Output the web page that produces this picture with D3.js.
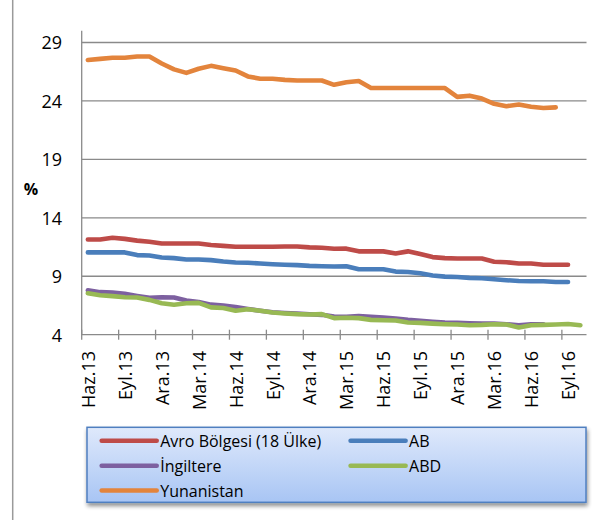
<!DOCTYPE html>
<html><head><meta charset="utf-8">
<script src="https://cdn.jsdelivr.net/npm/d3@7"></script>
<style>
html,body{margin:0;padding:0;background:#fff;}
svg{display:block;font-family:"Open Sans",sans-serif;}
</style></head>
<body><svg id="c" width="606" height="520"></svg>
<script>
const months = ["Haz.13","Tem.13","Ağu.13","Eyl.13","Eki.13","Kas.13","Ara.13","Oca.14","Şub.14","Mar.14","Nis.14","May.14","Haz.14","Tem.14","Ağu.14","Eyl.14","Eki.14","Kas.14","Ara.14","Oca.15","Şub.15","Mar.15","Nis.15","May.15","Haz.15","Tem.15","Ağu.15","Eyl.15","Eki.15","Kas.15","Ara.15","Oca.16","Şub.16","Mar.16","Nis.16","May.16","Haz.16","Tem.16","Ağu.16","Eyl.16","Eki.16"];
const tickLabels = ["Haz.13","Eyl.13","Ara.13","Mar.14","Haz.14","Eyl.14","Ara.14","Mar.15","Haz.15","Eyl.15","Ara.15","Mar.16","Haz.16","Eyl.16"];
const yTicks = [4,9,14,19,24,29];

const avro = [12.15,12.15,12.3,12.2,12.05,11.95,11.8,11.8,11.8,11.8,11.68,11.6,11.53,11.53,11.53,11.53,11.55,11.55,11.47,11.44,11.35,11.36,11.13,11.13,11.13,10.95,11.13,10.9,10.64,10.55,10.52,10.52,10.52,10.24,10.2,10.09,10.09,9.98,9.98,9.98];
const ab = [11.04,11.04,11.04,11.04,10.81,10.78,10.6,10.55,10.44,10.44,10.38,10.26,10.18,10.15,10.09,10.03,9.98,9.95,9.89,9.86,9.83,9.86,9.6,9.6,9.6,9.4,9.37,9.26,9.06,8.97,8.94,8.86,8.83,8.74,8.66,8.6,8.57,8.57,8.51,8.51];
const ingiltere = [7.79,7.64,7.61,7.5,7.32,7.15,7.2,7.18,6.92,6.8,6.57,6.49,6.37,6.2,6.05,5.92,5.85,5.8,5.75,5.7,5.55,5.53,5.59,5.53,5.47,5.39,5.27,5.18,5.1,5.04,5.01,4.98,4.95,4.95,4.9,4.8,4.88,4.88];
const abd = [7.55,7.38,7.3,7.2,7.18,6.98,6.69,6.57,6.69,6.72,6.34,6.28,6.05,6.17,6.05,5.9,5.82,5.76,5.73,5.76,5.42,5.45,5.42,5.27,5.24,5.21,5.04,5.01,4.95,4.9,4.87,4.81,4.84,4.9,4.87,4.61,4.81,4.84,4.87,4.92,4.81];
const yunanistan = [27.5,27.6,27.7,27.7,27.8,27.8,27.2,26.7,26.4,26.75,27.0,26.8,26.6,26.1,25.9,25.9,25.8,25.75,25.75,25.75,25.38,25.6,25.7,25.1,25.1,25.1,25.1,25.1,25.1,25.1,24.35,24.45,24.2,23.75,23.55,23.7,23.5,23.4,23.45];

const seriesNames = ["Avro Bölgesi (18 Ülke)","AB","İngiltere","ABD","Yunanistan"];
const seriesValues = [avro, ab, ingiltere, abd, yunanistan];
const seriesColors = ["#be4b48","#4a7ebb","#7d60a0","#98b954","#e3843c"];

const svg = d3.select("#c");
const plot = {left:81.7, right:586.5, top:30.8, bottom:334.7};

const x = d3.scaleBand().domain(months).range([plot.left, plot.right]).paddingInner(0).paddingOuter(0);
const y = d3.scaleLinear().domain([4,30]).range([plot.bottom, plot.top]);
const cx = m => x(m) + x.bandwidth()/2;

// outer chart border (left edge visible)
svg.append("line").attr("x1",12.7).attr("x2",12.7).attr("y1",0).attr("y2",520)
  .attr("stroke","#9a9a9a").attr("stroke-width",1.5);

// gridlines
svg.append("g").selectAll("line").data(yTicks.filter(t=>t>4)).join("line")
  .attr("x1",plot.left).attr("x2",plot.right)
  .attr("y1",d=>y(d)).attr("y2",d=>y(d))
  .attr("stroke","#8a8a8a").attr("stroke-width",1.3);

// y axis line
svg.append("line").attr("x1",plot.left).attr("x2",plot.left).attr("y1",plot.top).attr("y2",plot.bottom)
  .attr("stroke","#8a8a8a").attr("stroke-width",1.3);
// y labels
svg.append("g").selectAll("text").data(yTicks).join("text")
  .attr("x",62).attr("y",d=>y(d)).attr("text-anchor","end").attr("dominant-baseline","central")
  .attr("font-size",18).attr("fill","#000").text(d=>d);
// % label
svg.append("text").attr("x",31).attr("y",189).attr("text-anchor","middle").attr("dominant-baseline","central")
  .attr("font-size",16).attr("font-weight","bold").attr("fill","#000").text("%");

// x axis line
svg.append("line").attr("x1",plot.left).attr("x2",plot.right).attr("y1",plot.bottom).attr("y2",plot.bottom)
  .attr("stroke","#8a8a8a").attr("stroke-width",1.3);
// x tick marks at category boundaries every 3 months
const tickIdx = d3.range(0, months.length, 3);
svg.append("g").selectAll("line").data(tickIdx).join("line")
  .attr("x1",i=>x(months[i])).attr("x2",i=>x(months[i]))
  .attr("y1",plot.bottom-5).attr("y2",plot.bottom+5)
  .attr("stroke","#8a8a8a").attr("stroke-width",1.3);
// x labels
svg.append("g").selectAll("text").data(tickLabels).join("text")
  .attr("transform",d=>`translate(${cx(d)},351) rotate(-90)`)
  .attr("text-anchor","end").attr("dominant-baseline","central")
  .attr("font-size",18).attr("fill","#000").text(d=>d);

// lines
const line = d3.line().x((v,i)=>cx(months[i])).y(v=>y(v));
svg.append("g").selectAll("path").data(seriesValues).join("path")
  .attr("d",d=>line(d)).attr("fill","none")
  .attr("stroke",(d,i)=>seriesColors[i]).attr("stroke-width",4.6)
  .attr("stroke-linejoin","round").attr("stroke-linecap","round");

// legend
const defs = svg.append("defs");
const grad = defs.append("linearGradient").attr("id","lg").attr("x1",0).attr("y1",0).attr("x2",0).attr("y2",1);
grad.append("stop").attr("offset","0%").attr("stop-color","#dfe9fb");
grad.append("stop").attr("offset","100%").attr("stop-color","#a8c5f4");
const flt = defs.append("filter").attr("id","sh").attr("x","-10%").attr("y","-20%").attr("width","120%").attr("height","150%");
flt.append("feGaussianBlur").attr("in","SourceAlpha").attr("stdDeviation",2).attr("result","b");
flt.append("feOffset").attr("in","b").attr("dx",1).attr("dy",3).attr("result","o");
flt.append("feComponentTransfer").attr("in","o").attr("result","o2")
  .append("feFuncA").attr("type","linear").attr("slope",0.45);
const fm = flt.append("feMerge"); fm.append("feMergeNode").attr("in","o2"); fm.append("feMergeNode").attr("in","SourceGraphic");

const lg = {x:87, y:427.3, w:499, h:75};
svg.append("rect").attr("x",lg.x).attr("y",lg.y).attr("width",lg.w).attr("height",lg.h)
  .attr("fill","url(#lg)").attr("stroke","#4f7fc0").attr("stroke-width",1.5).attr("filter","url(#sh)");
const legPos = [[0,0],[1,0],[0,1],[1,1],[0,2]];
const colX = [101.7, 350.6];
const rowY = [440.7, 465.7, 490.5];
const items = svg.append("g").selectAll("g").data(seriesNames).join("g")
  .attr("transform",(d,i)=>`translate(${colX[legPos[i][0]]},${rowY[legPos[i][1]]})`);
items.append("line").attr("x1",0).attr("x2",55).attr("y1",0).attr("y2",0)
  .attr("stroke",(d,i)=>seriesColors[i]).attr("stroke-width",4.6).attr("stroke-linecap","round");
items.append("text").attr("x",58.5).attr("y",0).attr("dominant-baseline","central")
  .attr("font-size",16).attr("fill","#000").text(d=>d);
</script></body></html>
